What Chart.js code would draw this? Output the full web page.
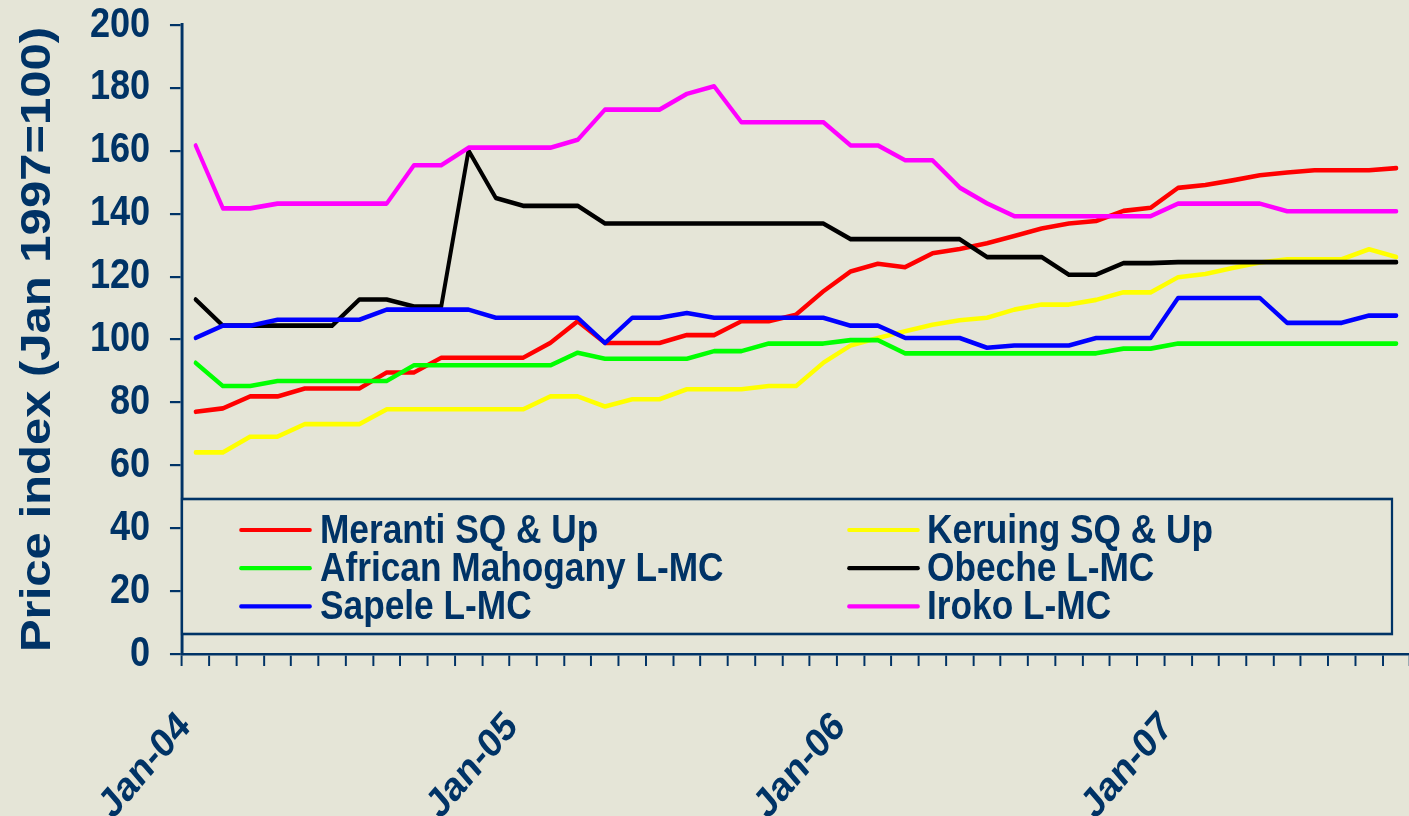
<!DOCTYPE html>
<html><head><meta charset="utf-8">
<script src="https://cdn.jsdelivr.net/npm/chart.js@4.4.1/dist/chart.umd.min.js"></script>
<style>
html,body{margin:0;padding:0;background:#E5E5D7;overflow:hidden;width:1409px;height:816px;}
canvas{display:block;}
</style></head><body>
<canvas id="c" width="1642" height="816"></canvas>
<script>
const categories = [
  'Jan-04','Feb-04','Mar-04','Apr-04','May-04','Jun-04','Jul-04','Aug-04','Sep-04','Oct-04','Nov-04','Dec-04',
  'Jan-05','Feb-05','Mar-05','Apr-05','May-05','Jun-05','Jul-05','Aug-05','Sep-05','Oct-05','Nov-05','Dec-05',
  'Jan-06','Feb-06','Mar-06','Apr-06','May-06','Jun-06','Jul-06','Aug-06','Sep-06','Oct-06','Nov-06','Dec-06',
  'Jan-07','Feb-07','Mar-07','Apr-07','May-07','Jun-07','Jul-07','Aug-07','Sep-07'
];
const tickLabels = ['Jan-04','Jan-05','Jan-06','Jan-07'];
const yTicks = [0, 20, 40, 60, 80, 100, 120, 140, 160, 180, 200];

const meranti = [77.0,78.1,81.9,81.9,84.4,84.4,84.4,89.5,89.5,94.2,94.2,94.2,
  94.2,98.9,105.8,98.9,98.9,98.9,101.4,101.4,105.8,105.8,107.9,115.3,
  121.6,124.1,123.0,127.4,128.8,130.6,132.9,135.3,136.9,137.7,140.9,141.9,
  148.2,149.1,150.6,152.2,153.1,153.8,153.8,153.8,154.5];
const keruing = [64.1,64.1,69.1,69.1,73.1,73.1,73.1,77.8,77.8,77.8,77.8,77.8,
  77.8,81.9,81.9,78.7,81.0,81.0,84.2,84.2,84.2,85.2,85.2,92.6,
  98.1,100.5,102.6,104.7,106.1,106.9,109.5,111.1,111.1,112.6,115.0,115.0,
  119.8,120.8,122.7,124.5,125.5,125.5,125.5,128.7,126.2];
const africanMahogany = [92.6,85.2,85.2,86.8,86.8,86.8,86.8,86.8,91.8,91.8,91.8,91.8,
  91.8,91.8,95.8,93.9,93.9,93.9,93.9,96.3,96.3,98.7,98.7,98.7,
  99.8,99.8,95.6,95.6,95.6,95.6,95.6,95.6,95.6,95.6,97.1,97.1,
  98.7,98.7,98.7,98.7,98.7,98.7,98.7,98.7,98.7];
const obeche = [112.7,104.4,104.4,104.4,104.4,104.4,112.7,112.7,110.5,110.5,160.1,145.0,
  142.5,142.5,142.5,136.9,136.9,136.9,136.9,136.9,136.9,136.9,136.9,136.9,
  131.9,131.9,131.9,131.9,131.9,126.2,126.2,126.2,120.6,120.6,124.3,124.3,
  124.6,124.6,124.6,124.6,124.6,124.6,124.6,124.6,124.6];
const sapele = [100.5,104.4,104.4,106.3,106.3,106.3,106.3,109.5,109.5,109.5,109.5,106.9,
  106.9,106.9,106.9,98.9,106.9,106.9,108.4,106.9,106.9,106.9,106.9,106.9,
  104.4,104.4,100.5,100.5,100.5,97.4,98.1,98.1,98.1,100.5,100.5,100.5,
  113.2,113.2,113.2,113.2,105.3,105.3,105.3,107.6,107.6];
const iroko = [161.7,141.7,141.7,143.2,143.2,143.2,143.2,143.2,155.4,155.4,161.0,161.0,
  161.0,161.0,163.5,173.1,173.1,173.1,178.1,180.5,169.1,169.1,169.1,169.1,
  161.7,161.7,157.0,157.0,148.3,143.3,139.2,139.2,139.2,139.2,139.2,139.2,
  143.2,143.2,143.2,143.2,140.8,140.8,140.8,140.8,140.8];

const seriesNames = ['Meranti SQ & Up','Keruing SQ & Up','African Mahogany L-MC','Obeche L-MC','Sapele L-MC','Iroko L-MC'];
const seriesData = [meranti, keruing, africanMahogany, obeche, sapele, iroko];
const seriesColors = ['#FF0000','#FFFF00','#00FF00','#000000','#0000FF','#FF00FF'];

const NAVY = '#003366';
const BG = '#E5E5D7';
const SANS = "'Liberation Sans', Arial, sans-serif";
// the whole drawing is condensed horizontally (as in the original picture)
const SX = 0.86;

const datasets = seriesNames.map((name, i) => ({
  label: name,
  data: seriesData[i],
  borderColor: seriesColors[i],
  backgroundColor: seriesColors[i],
  borderWidth: 4.6,
  pointRadius: 0,
  pointHoverRadius: 0,
  tension: 0,
  fill: false,
  borderJoinStyle: 'round',
  borderCapStyle: 'round',
  order: seriesNames.length - 1 - i
}));

const condense = {
  id: 'condense',
  beforeDraw(chart) { chart.ctx.setTransform(SX, 0, 0, 1, 0, 0); }
};

const legendBox = {
  id: 'legendBox',
  afterDatasetsDraw(chart) {
    const ctx = chart.ctx;
    const left = chart.chartArea.left, right = 1392 / SX, top = 499, bottom = 634;
    ctx.save();
    ctx.fillStyle = BG;
    ctx.fillRect(left, top, right - left, bottom - top);
    ctx.strokeStyle = NAVY;
    ctx.lineWidth = 2.6;
    ctx.strokeRect(left, top, right - left, bottom - top);
    const colLine = [241 / SX, 849 / SX];
    const colText = [320 / SX, 927 / SX];
    const lineLen = 69 / SX;
    chart.data.datasets.forEach((ds, i) => {
      const col = i % 2, row = Math.floor(i / 2);
      const y = 530 + row * 38.2;
      ctx.strokeStyle = ds.borderColor;
      ctx.lineWidth = 4.2;
      ctx.lineCap = 'round';
      ctx.beginPath();
      ctx.moveTo(colLine[col], y);
      ctx.lineTo(colLine[col] + lineLen, y);
      ctx.stroke();
      ctx.fillStyle = NAVY;
      ctx.font = 'bold 41px ' + SANS;
      ctx.textBaseline = 'alphabetic';
      ctx.textAlign = 'left';
      ctx.fillText(ds.label, colText[col], y + 12.7);
    });
    ctx.restore();
  }
};

new Chart(document.getElementById('c'), {
  type: 'line',
  data: { labels: categories, datasets },
  options: {
    responsive: false,
    devicePixelRatio: 1,
    animation: false,
    events: [],
    layout: { padding: { top: 25, right: 2.5, left: 0, bottom: 0 } },
    plugins: { legend: { display: false }, tooltip: { enabled: false }, title: { display: false } },
    scales: {
      x: {
        type: 'category',
        offset: true,
        grid: { display: true, drawOnChartArea: false, drawTicks: true, tickLength: 12, color: NAVY, lineWidth: 2.3, offset: true },
        border: { display: true, color: NAVY, width: 2.6 },
        ticks: {
          autoSkip: false,
          minRotation: 45,
          maxRotation: 45,
          padding: 37,
          labelOffset: -12.5,
          color: NAVY,
          font: { family: SANS, size: 41, weight: 'bold' },
          callback: function(value) {
            const lab = this.getLabelForValue(value);
            return tickLabels.includes(lab) ? lab : '';
          }
        },
        afterFit(scale) { scale.height = 162; scale.paddingLeft = 0; scale.paddingRight = 0; }
      },
      y: {
        min: 0, max: 200,
        afterBuildTicks(scale) { scale.ticks = yTicks.map(v => ({ value: v })); },
        grid: { display: true, drawOnChartArea: false, drawTicks: true, tickLength: 14, color: NAVY, lineWidth: 2.2 },
        border: { display: true, color: NAVY, width: 3.4 },
        ticks: {
          padding: 23,
          color: NAVY,
          font: { family: SANS, size: 42, weight: 'bold' }
        },
        title: {
          display: true,
          text: 'Price index (Jan 1997=100)',
          color: NAVY,
          font: { family: SANS, size: 49, weight: 'bold' },
          padding: { top: 15, bottom: 0 }
        },
        afterFit(scale) { scale.width = 182 / SX; scale.paddingTop = 0; scale.paddingBottom = 0; }
      }
    }
  },
  plugins: [condense, legendBox]
});
</script>
</body></html>
